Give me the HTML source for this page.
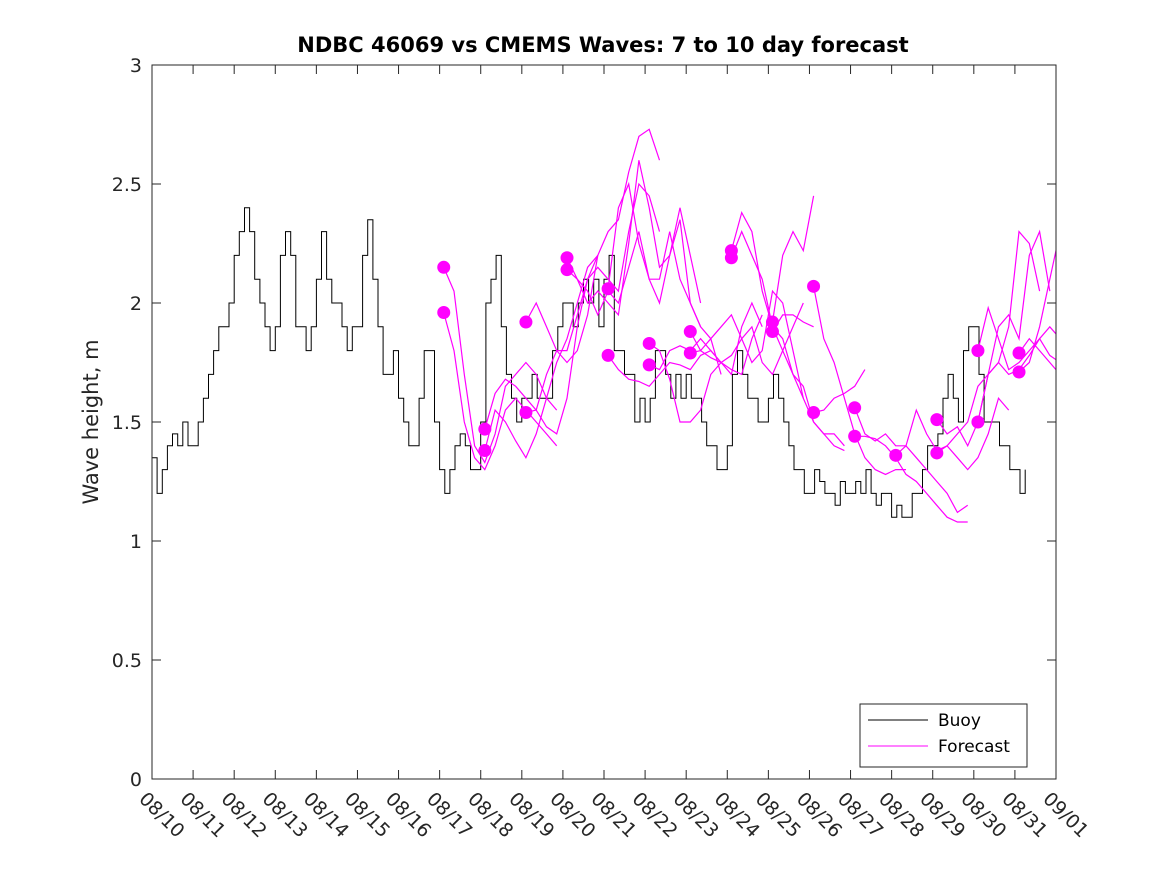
<!DOCTYPE html>
<html><head><meta charset="utf-8"><style>body{margin:0;background:#fff}svg{font-family:"DejaVu Sans","Liberation Sans",sans-serif}</style></head>
<body>
<svg id="chart" width="1167" height="875" viewBox="0 0 1167 875" xmlns="http://www.w3.org/2000/svg">
<defs><clipPath id="clip"><rect x="152" y="65" width="904" height="714"/></clipPath></defs>
<rect x="0" y="0" width="1167" height="875" fill="#fff"/>
<text x="603" y="52" text-anchor="middle" font-size="21" font-weight="bold" fill="#000">NDBC 46069 vs CMEMS Waves: 7 to 10 day forecast</text>
<text transform="translate(98,422) rotate(-90)" text-anchor="middle" font-size="21" fill="#262626">Wave height, m</text>
<g id="axes"></g>
<g id="buoy" clip-path="url(#clip)"></g>
<g id="fc" clip-path="url(#clip)"></g>
<rect x="152" y="65" width="904" height="714" fill="none" stroke="#262626" stroke-width="1"/>
<g>
<rect x="860" y="704" width="167" height="63" fill="#fff" stroke="#262626"/>
<line x1="868" y1="720" x2="928" y2="720" stroke="#000"/>
<text x="938" y="726" font-size="17" fill="#000">Buoy</text>
<line x1="868" y1="746" x2="928" y2="746" stroke="#f0f"/>
<text x="938" y="752" font-size="17" fill="#000">Forecast</text>
</g>
</svg>
<script>
const xTickLabels=["08/10","08/11","08/12","08/13","08/14","08/15","08/16","08/17","08/18","08/19","08/20","08/21","08/22","08/23","08/24","08/25","08/26","08/27","08/28","08/29","08/30","08/31","09/01"];
const yTicks=[0,0.5,1,1.5,2,2.5,3];
// buoy: 3-hourly values from 08/10 00Z
const buoyValues=[1.35,1.2,1.3,1.4,1.45,1.4,1.5,1.4,
1.4,1.5,1.6,1.7,1.8,1.9,1.9,2.0,
2.2,2.3,2.4,2.3,2.1,2.0,1.9,1.8,
1.9,2.2,2.3,2.2,1.9,1.9,1.8,1.9,
2.1,2.3,2.1,2.0,2.0,1.9,1.8,1.9,
1.9,2.2,2.35,2.1,1.9,1.7,1.7,1.8,
1.6,1.5,1.4,1.4,1.6,1.8,1.8,1.5,
1.3,1.2,1.3,1.4,1.45,1.4,1.3,1.3,
1.5,2.0,2.1,2.2,1.9,1.7,1.6,1.5,
1.6,1.6,1.7,1.6,1.6,1.6,1.8,1.9,
2.0,2.0,1.9,2.0,2.1,2.0,2.1,1.9,
2.1,2.2,1.8,1.8,1.7,1.7,1.5,1.6,
1.5,1.6,1.8,1.8,1.7,1.6,1.7,1.6,
1.7,1.6,1.6,1.5,1.4,1.4,1.3,1.3,
1.4,1.7,1.8,1.7,1.6,1.6,1.5,1.5,
1.6,1.7,1.6,1.5,1.4,1.3,1.3,1.2,
1.2,1.3,1.25,1.2,1.2,1.15,1.25,1.2,
1.2,1.25,1.2,1.3,1.2,1.15,1.2,1.2,
1.1,1.15,1.1,1.1,1.2,1.2,1.3,1.4,
1.4,1.45,1.6,1.7,1.6,1.5,1.8,1.9,
1.9,1.7,1.5,1.5,1.5,1.4,1.4,1.3,
1.3,1.2,1.3];
// forecasts: start day (days since 08/10) and 6-hourly values
const fcStarts=[7.1,7.1,8.1,8.1,9.1,9.1,10.1,10.1,11.1,11.1,12.1,12.1,13.1,13.1,14.1,14.1,15.1,15.1,16.1,16.1,17.1,17.1,18.1,19.1,19.1,20.1,20.1,21.1,21.1];
const fcValues=[
[2.15,2.05,1.7,1.4,1.33,1.45,1.65,1.7,1.75,1.7,1.6,1.55],
[1.96,1.8,1.5,1.35,1.3,1.4,1.55,1.6,1.55,1.5,1.45,1.4],
[1.47,1.62,1.68,1.65,1.6,1.55,1.7,1.8,1.8,1.95,2.1,2.2],
[1.38,1.55,1.5,1.42,1.35,1.45,1.6,1.75,1.85,2.0,2.15,2.2],
[1.92,2.0,1.9,1.8,1.75,1.8,1.95,2.2,2.3,2.35,2.55,2.7,2.73,2.6],
[1.54,1.55,1.48,1.45,1.6,1.9,2.1,2.15,2.1,2.05,2.3,2.5,2.45,2.3],
[2.19,2.1,2.0,2.05,2.0,1.95,2.25,2.6,2.4,2.15,2.2,2.4,2.2,2.0],
[2.14,2.1,2.05,1.95,2.05,2.0,2.15,2.3,2.1,2.0,2.2,2.35,2.0,1.9],
[2.06,2.4,2.5,2.25,2.1,2.1,2.3,2.1,2.0,1.9,1.85,1.7],
[1.78,1.72,1.68,1.67,1.65,1.7,1.75,1.74,1.72,1.78,1.8,1.75],
[1.83,1.8,1.68,1.5,1.5,1.55,1.7,1.75,1.7,1.9,2.0,1.9],
[1.74,1.72,1.8,1.82,1.8,1.85,1.8,1.75,1.72,1.7,1.85,1.95],
[1.88,1.8,1.85,1.9,1.95,1.85,1.75,1.8,2.05,2.0,1.8,1.6],
[1.79,1.8,1.77,1.75,1.78,1.85,1.9,1.75,1.7,1.8,1.9,2.0],
[2.22,2.38,2.3,2.05,1.9,1.8,1.7,1.65,1.5,1.45,1.45,1.4],
[2.19,2.3,2.2,2.1,1.9,1.85,1.7,1.6,1.5,1.45,1.4,1.38],
[1.92,2.2,2.3,2.22,2.45],
[1.88,1.95,1.95,1.92,1.9],
[2.07,1.85,1.75,1.6,1.45,1.35,1.3,1.28,1.3,1.3],
[1.54,1.55,1.6,1.62,1.65,1.72],
[1.56,1.45,1.42,1.45,1.4,1.4,1.35,1.3,1.25,1.2,1.12,1.15],
[1.44,1.44,1.43,1.4,1.35,1.28,1.25,1.2,1.15,1.1,1.08,1.08],
[1.36,1.4,1.55,1.45,1.38,1.4,1.35,1.3,1.35,1.45,1.6,1.55],
[1.51,1.45,1.48,1.4,1.5,1.7,1.9,1.95,1.85,2.2,2.3,2.05],
[1.37,1.4,1.45,1.5,1.65,1.7,1.75,1.9,2.3,2.25,2.05],
[1.80,1.98,1.85,1.72,1.75,1.8,1.85,1.9,1.85,1.82],
[1.50,1.7,1.75,1.7,1.72,1.78,1.85,1.78,1.75,1.72],
[1.79,1.85,1.8,1.75,1.7,1.65],
[1.71,1.75,1.9,2.1,2.3,2.0]];
const NS="http://www.w3.org/2000/svg";
const X0=152,X1=1056,Y0=779,Y1=65,DAYS=22,YMAX=3;
function xs(d){return X0+(X1-X0)*d/DAYS;}
function ys(v){return Y0-(Y0-Y1)*v/YMAX;}
function mk(tag,attrs,parent){const e=document.createElementNS(NS,tag);for(const k in attrs)e.setAttribute(k,attrs[k]);parent.appendChild(e);return e;}
const axes=document.getElementById('axes');
xTickLabels.forEach((lab,i)=>{
  const x=xs(i);
  const t1=mk('line',{x1:x,y1:Y0,x2:x,y2:Y0-9,stroke:'#262626'},axes);
  
  
  const t2=mk('line',{x1:x,y1:Y1,x2:x,y2:Y1+9,stroke:'#262626'},axes);
  
  
  const tx=mk('text',{x:x-14,y:Y0+21,'font-size':19,fill:'#262626',transform:`rotate(45 ${x-14} ${Y0+21})`},axes);
  tx.textContent=lab;
  
  
});
yTicks.forEach(v=>{
  const y=ys(v);
  const a=mk('line',{x1:X0,y1:y,x2:X0+9,y2:y,stroke:'#262626'},axes);
  
  
  const b=mk('line',{x1:X1,y1:y,x2:X1-9,y2:y,stroke:'#262626'},axes);
  
  
  const t=mk('text',{x:X0-10,y:y+7,'text-anchor':'end','font-size':19,fill:'#262626'},axes);
  t.textContent=String(v);
  
  
});
// buoy step line
let d='';
buoyValues.forEach((v,i)=>{const x=xs(i/8),y=ys(v);d+=(i?` H${x.toFixed(1)} V${y.toFixed(1)}`:`M${x.toFixed(1)} ${y.toFixed(1)}`);});
const bl=mk('path',{d:d,fill:'none',stroke:'#000','stroke-width':1},document.getElementById('buoy'));


const fg=document.getElementById('fc');
fcValues.forEach((vals,k)=>{
  const s=fcStarts[k];
  const pts=vals.map((v,i)=>xs(s+i*0.25).toFixed(1)+','+ys(v).toFixed(1)).join(' ');
  const pl=mk('polyline',{points:pts,fill:'none',stroke:'#f0f','stroke-width':1.2},fg);
  
  
});
fcValues.forEach((vals,k)=>{
  const c=mk('circle',{cx:xs(fcStarts[k]),cy:ys(vals[0]),r:6.5,fill:'#f0f'},fg);
  
  
});
</script>
</body></html>
